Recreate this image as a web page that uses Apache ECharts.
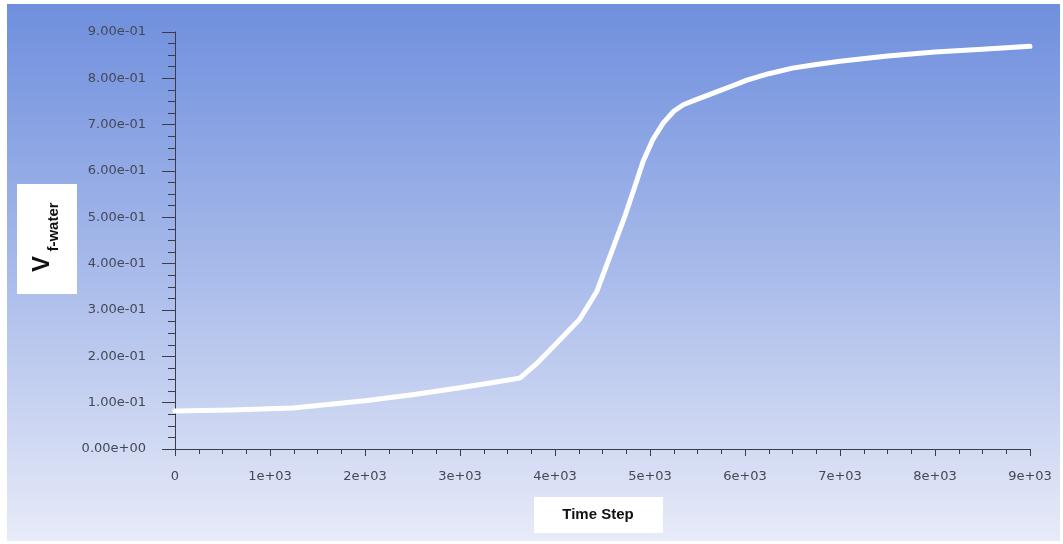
<!DOCTYPE html>
<html>
<head>
<meta charset="utf-8">
<title>Vf-water vs Time Step</title>
<script src="https://cdn.jsdelivr.net/npm/echarts@6/dist/echarts.min.js"></script>
<style>
  html, body { margin: 0; padding: 0; background: #ffffff; }
  #chart { width: 1063px; height: 544px; }
</style>
</head>
<body>
<div id="chart"></div>
<script>
// Volume fraction of water over the simulation time steps
const timeSteps = [0, 600, 1240, 2000, 2500, 3000, 3300, 3630, 3800, 3950, 4100, 4260, 4440, 4580, 4740, 4830, 4930, 5030, 5140, 5250, 5350, 5500, 5680, 5870, 6020, 6250, 6500, 6750, 7000, 7500, 8000, 8500, 9000];
const vfWater   = [0.082, 0.084, 0.0885, 0.104, 0.117, 0.132, 0.142, 0.153, 0.183, 0.214, 0.246, 0.280, 0.340, 0.417, 0.505, 0.560, 0.622, 0.668, 0.704, 0.729, 0.743, 0.755, 0.769, 0.784, 0.796, 0.810, 0.822, 0.830, 0.837, 0.848, 0.857, 0.863, 0.869];

const yTickMax = 0.9;
const yTickStep = 0.1;
const xTickMax = 9000;
const xTickStep = 1000;

const xAxisTitle = 'Time Step';
const yAxisSymbol = 'V';
const yAxisSubscript = 'f-water';

// Format 0.9 as 9.00e-01
function sciLabel(v) {
  const s = Number(v).toExponential(2);
  const m = s.match(/^(-?[\d.]+)e([+-])(\d+)$/);
  if (!m) return s;
  return m[1] + 'e' + m[2] + (m[3].length < 2 ? '0' + m[3] : m[3]);
}
function stepLabel(v) {
  if (v === 0) return '0';
  return Math.round(v / 1000) + 'e+03';
}

const points = timeSteps.map((t, i) => [t, vfWater[i]]);

const labelFont = {
  fontFamily: 'DejaVu Sans',
  fontSize: 13,
  color: '#434857'
};

const chart = echarts.init(document.getElementById('chart'), null, { renderer: 'canvas' });

chart.setOption({
  animation: false,
  backgroundColor: '#ffffff',
  grid: { left: 175, right: 33, top: 32, bottom: 95, containLabel: false },
  graphic: [
    {
      type: 'rect',
      z: -100,
      silent: true,
      shape: { x: 7, y: 4, width: 1053, height: 537 },
      style: {
        fill: new echarts.graphic.LinearGradient(0, 0, 0, 1, [
          { offset: 0, color: '#6f8fdd' },
          { offset: 0.45, color: '#a2b6e9' },
          { offset: 1, color: '#e8ebf8' }
        ])
      }
    },
    {
      type: 'rect',
      z: 10,
      silent: true,
      shape: { x: 17, y: 184, width: 60, height: 110 },
      style: { fill: '#ffffff' }
    },
    {
      type: 'text',
      z: 11,
      silent: true,
      x: 42, y: 264,
      rotation: Math.PI / 2,
      style: {
        text: yAxisSymbol,
        font: 'bold 24px "Liberation Sans", Arial, sans-serif',
        fill: '#111111',
        align: 'center',
        verticalAlign: 'middle'
      }
    },
    {
      type: 'text',
      z: 11,
      silent: true,
      x: 54, y: 227,
      rotation: Math.PI / 2,
      style: {
        text: yAxisSubscript,
        font: 'bold 15px "Liberation Sans", Arial, sans-serif',
        fill: '#111111',
        align: 'center',
        verticalAlign: 'middle'
      }
    },
    {
      type: 'rect',
      z: 10,
      silent: true,
      shape: { x: 534, y: 497, width: 129, height: 36 },
      style: { fill: '#ffffff' }
    },
    {
      type: 'text',
      z: 11,
      silent: true,
      x: 598, y: 515,
      style: {
        text: xAxisTitle,
        font: 'bold 15px "Liberation Sans", Arial, sans-serif',
        fill: '#111111',
        align: 'center',
        verticalAlign: 'middle'
      }
    }
  ],
  xAxis: {
    type: 'value',
    min: 0,
    max: xTickMax,
    interval: xTickStep,
    axisLine: { show: true, onZero: false, lineStyle: { color: '#3a3d48', width: 1 } },
    axisTick: { show: true, length: 7, lineStyle: { color: '#3a3d48' } },
    minorTick: { show: true, splitNumber: 4, length: 5, lineStyle: { color: '#3a3d48' } },
    splitLine: { show: false },
    axisLabel: Object.assign({ margin: 21, formatter: stepLabel }, labelFont)
  },
  yAxis: {
    type: 'value',
    min: 0,
    max: yTickMax,
    interval: yTickStep,
    axisLine: { show: true, onZero: false, lineStyle: { color: '#3a3d48', width: 1 } },
    axisTick: { show: true, length: 13, lineStyle: { color: '#3a3d48' } },
    minorTick: { show: true, splitNumber: 4, length: 7, lineStyle: { color: '#3a3d48' } },
    splitLine: { show: false },
    axisLabel: Object.assign({ margin: 29, formatter: sciLabel }, labelFont)
  },
  series: [
    {
      type: 'line',
      data: points,
      showSymbol: false,
      smooth: false,
      lineStyle: { color: '#ffffff', width: 5, cap: 'round', join: 'round' },
      z: 3
    }
  ]
});
</script>
</body>
</html>
